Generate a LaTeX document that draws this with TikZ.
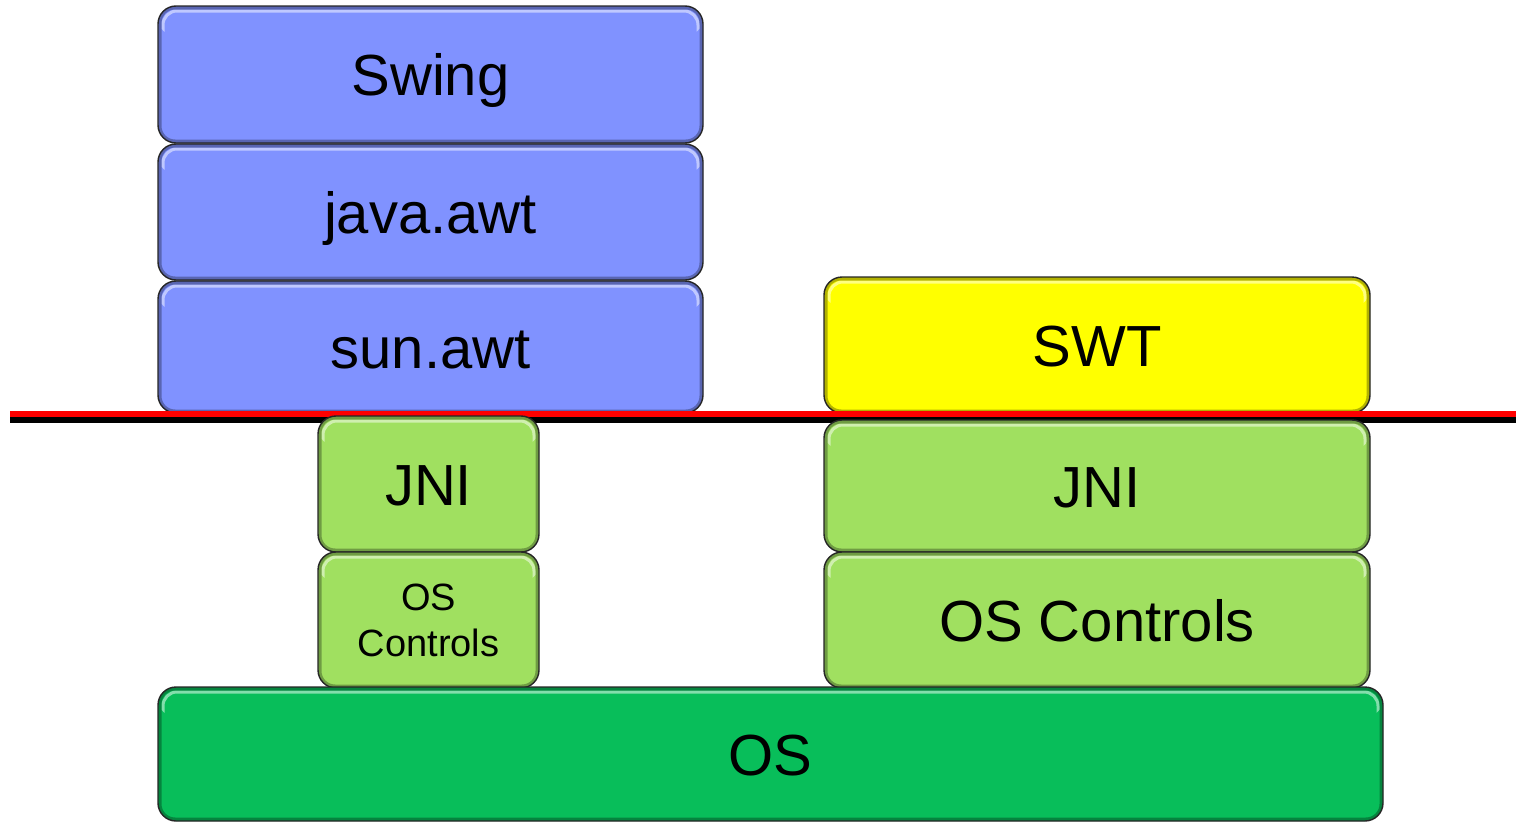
\documentclass[tikz,border=0pt]{standalone}
\usepackage{fontspec}
\setmainfont{Liberation Sans}
\definecolor{awtblue}{RGB}{128,146,255}
\definecolor{swtyellow}{RGB}{255,255,0}
\definecolor{jnigreen}{RGB}{160,224,96}
\definecolor{osgreen}{RGB}{8,190,90}
\begin{document}
\begin{tikzpicture}[x=1pt,y=-1pt,
  layer/.style={draw=black!85, line width=1.4pt, rounded corners=18pt, inner sep=0pt, outer sep=0pt,
    anchor=north west, text=black, font=\fontsize{58}{64}\selectfont,
    text height=42pt, text depth=0pt,
    path picture={
      \begin{scope}
        \clip ([yshift=-30pt]path picture bounding box.north west) rectangle (path picture bounding box.north east);
        \draw[white, opacity=0.5, line width=3pt, rounded corners=14pt]
          ([xshift=5pt,yshift=-5pt]path picture bounding box.north west) rectangle
          ([xshift=-5pt,yshift=5pt]path picture bounding box.south east);
      \end{scope}
      \draw[black, opacity=0.3, line width=5pt, rounded corners=16pt]
        ([xshift=1pt,yshift=-1pt]path picture bounding box.north west) rectangle
        ([xshift=-1pt,yshift=1pt]path picture bounding box.south east);
    }},
  sep/.style={line width=6pt}]
\useasboundingbox (0,0) rectangle (1516,822);
% Java AWT / Swing stack
\node[layer, fill=awtblue, minimum width=545pt, minimum height=137pt] (swing) at (158,6) {Swing};
\node[layer, fill=awtblue, minimum width=545pt, minimum height=136pt] (awt) at (158,144) {java.awt};
\node[layer, fill=awtblue, minimum width=545pt, minimum height=132pt] (sunawt) at (158,281) {sun.awt};
% SWT
\node[layer, fill=swtyellow, minimum width=546pt, minimum height=136pt] (swt) at (824,277) {SWT};
% separator line
\coordinate (la) at (10,414);
\coordinate (lb) at (1516,414);
\coordinate (lc) at (10,420);
\coordinate (ld) at (1516,420);
\draw[sep, black] (lc) -- (ld);
\draw[sep, red] (la) -- (lb);
% native layers
\node[layer, fill=jnigreen, minimum width=221pt, minimum height=136pt] (jniL) at (318,416) {JNI};
\node[layer, fill=jnigreen, minimum width=221pt, minimum height=136pt, align=center,
  font=\fontsize{38}{46}\selectfont, text height=, text depth=] (oscL) at (318,552) {OS\\Controls};
\node[layer, fill=jnigreen, minimum width=546pt, minimum height=132pt] (jniR) at (824,420) {JNI};
\node[layer, fill=jnigreen, minimum width=546pt, minimum height=136pt] (oscR) at (824,552) {OS Controls};
\node[layer, fill=osgreen, minimum width=1225pt, minimum height=134pt] (os) at (158,687) {OS};
\end{tikzpicture}
\end{document}
